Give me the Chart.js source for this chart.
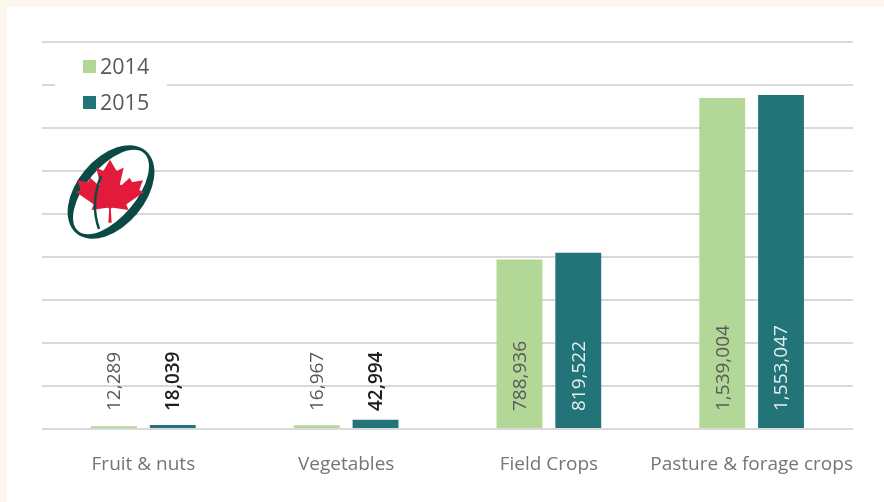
<!DOCTYPE html>
<html>
<head>
<meta charset="utf-8">
<script src="https://cdn.jsdelivr.net/npm/chart.js@4.4.1/dist/chart.umd.min.js"></script>
<style>
  html, body { margin: 0; padding: 0; }
  body { width: 884px; height: 502px; background: #fcf7ec; position: relative; overflow: hidden; }
  #panel { position: absolute; left: 7px; top: 7px; right: 0; bottom: 0; background: #fff; }
  #chart { position: absolute; left: 0; top: 0; }
  #logo { position: absolute; left: 0; top: 0; pointer-events: none; }
</style>
</head>
<body>
<div id="panel"></div>
<canvas id="chart" width="884" height="502"></canvas>
<svg id="logo" width="884" height="502" viewBox="0 0 884 502">
  <g transform="translate(111 192) rotate(40)">
    <ellipse cx="0" cy="0" rx="34" ry="54" fill="#0b4a44"/>
    <ellipse cx="0" cy="0" rx="25" ry="51" fill="#fff"/>
  </g>
  <g transform="translate(110 191) scale(0.0183 0.0156)">
    <path fill="#e31b3b" d="m-90 2030 45-863a95 95 0 0 0-111-98l-859 151 116-320a65 65 0 0 0-20-73l-941-762 212-99a65 65 0 0 0 34-79l-186-572 542 115a65 65 0 0 0 73-38l105-247 423 454a65 65 0 0 0 111-57l-204-1052 327 189a65 65 0 0 0 91-27l332-652 332 652a65 65 0 0 0 91 27l327-189-204 1052a65 65 0 0 0 111 57l423-454 105 247a65 65 0 0 0 73 38l542-115-186 572a65 65 0 0 0 34 79l212 99-941 762a65 65 0 0 0-20 73l116 320-859-151a95 95 0 0 0-111 98l45 863z"/>
  </g>
  <path d="M101 176 Q90 204 99 229" fill="none" stroke="#0b4a44" stroke-width="2.5"/>
</svg>
<script>
// Land use by category, 2014 vs 2015
const categories = ['Fruit & nuts', 'Vegetables', 'Field Crops', 'Pasture & forage crops'];
const seriesNames = ['2014', '2015'];
const values2014 = [12289, 16967, 788936, 1539004];
const values2015 = [18039, 42994, 819522, 1553047];

const yMax = 1800000;
const yStep = 200000;

const FONT = '"Open Sans", "Liberation Sans", sans-serif';
const fmt = v => v.toLocaleString('en-US');

// Rotated value labels, anchored just above the bar base
const barLabels = {
    id: 'barLabels',
    afterDatasetsDraw(chart) {
        const ctx = chart.ctx;
        ctx.save();
        ctx.font = `19px ${FONT}`;
        chart.data.datasets.forEach((ds, di) => {
            chart.getDatasetMeta(di).data.forEach((bar, i) => {
                const text = fmt(ds.data[i]);
                const w = ctx.measureText(text).width;
                const inside = (bar.base - bar.y) > w + 24;
                ctx.save();
                ctx.translate(bar.x, bar.base - 17);
                ctx.rotate(-Math.PI / 2);
                ctx.textAlign = 'left';
                ctx.textBaseline = 'middle';
                if (di === 0) {
                    ctx.fillStyle = '#595959';
                } else if (inside) {
                    ctx.fillStyle = '#e4efef';
                } else {
                    ctx.fillStyle = '#1e1e1e';
                    ctx.font = `600 19px ${FONT}`;
                }
                ctx.fillText(text, 0, 1);
                ctx.restore();
            });
        });
        ctx.restore();
    }
};

// Legend boxed in the top-left corner of the plot
const cornerLegend = {
    id: 'cornerLegend',
    afterDraw(chart) {
        const { ctx, chartArea } = chart;
        const x0 = chartArea.left, y0 = chartArea.top;
        ctx.save();
        ctx.fillStyle = '#fff';
        ctx.fillRect(x0 + 13, y0 + 6, 112, 72);
        ctx.font = `21.5px ${FONT}`;
        ctx.textBaseline = 'middle';
        chart.data.datasets.forEach((ds, i) => {
            const cy = y0 + 24.5 + i * 36;
            ctx.fillStyle = ds.backgroundColor;
            ctx.fillRect(x0 + 41, cy - 6.5, 13, 13);
            ctx.fillStyle = '#595959';
            ctx.fillText(ds.label, x0 + 58, cy + 1);
        });
        ctx.restore();
    }
};

new Chart(document.getElementById('chart'), {
    type: 'bar',
    data: {
        labels: categories,
        datasets: [
            { label: seriesNames[0], data: values2014, backgroundColor: '#b2d796' },
            { label: seriesNames[1], data: values2015, backgroundColor: '#237479' },
        ]
    },
    options: {
        responsive: false,
        animation: false,
        layout: { padding: { left: 42, right: 31, top: 42, bottom: 0 } },
        categoryPercentage: 0.58,
        barPercentage: 0.78,
        plugins: {
            legend: { display: false },
            tooltip: { enabled: false },
        },
        scales: {
            x: {
                grid: { display: false },
                border: { display: false },
                ticks: { color: '#757575', font: { family: FONT, size: 19 }, padding: 16,
                         maxRotation: 0, autoSkip: false },
                afterFit: s => { s.height = 73; },
            },
            y: {
                min: 0,
                max: yMax,
                ticks: { display: false, stepSize: yStep },
                border: { display: false },
                grid: { color: '#d9d9d9', lineWidth: 2, drawTicks: false },
                afterFit: s => { s.width = 0; },
            }
        }
    },
    plugins: [barLabels, cornerLegend]
});
</script>
</body>
</html>
